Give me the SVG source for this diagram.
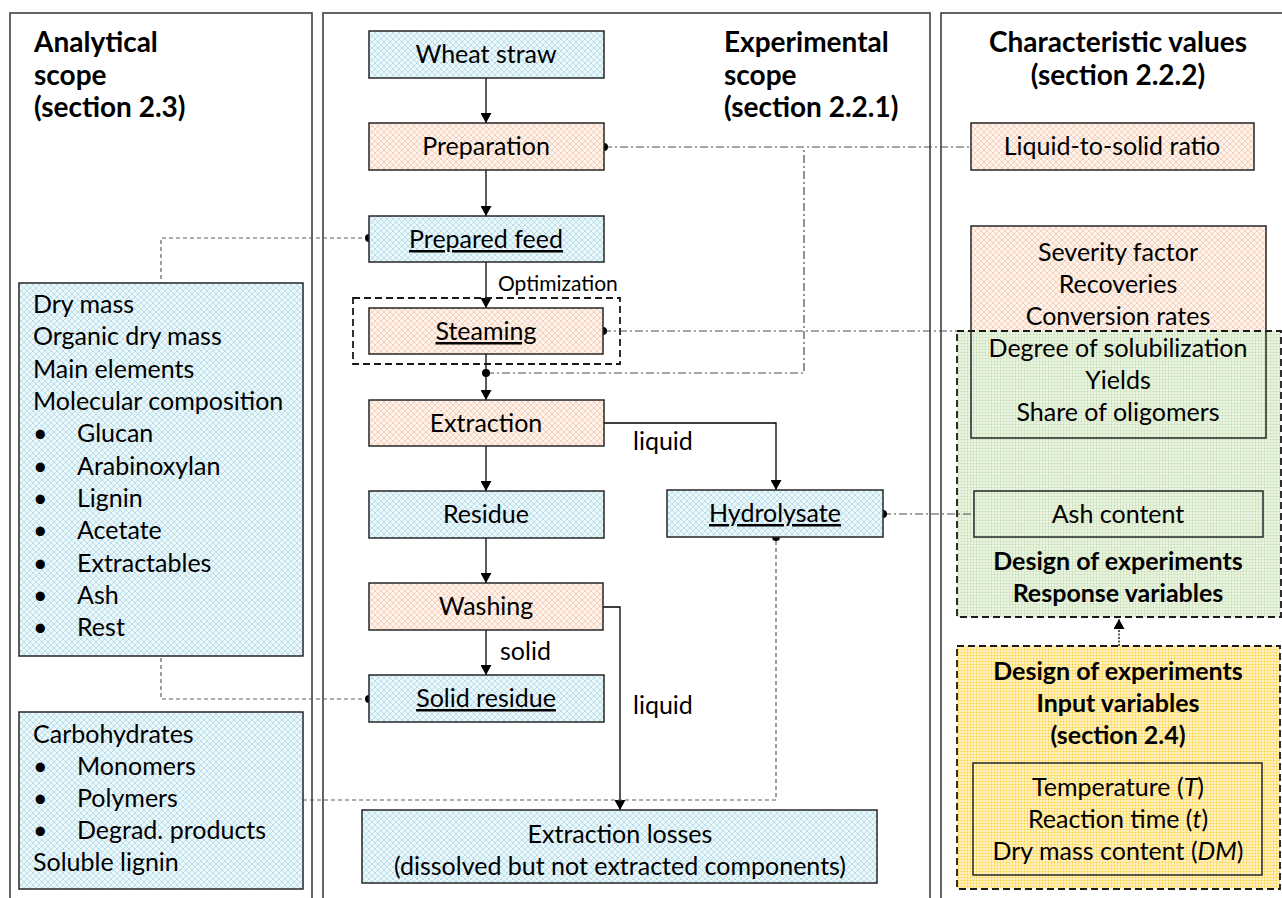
<svg xmlns="http://www.w3.org/2000/svg" width="1282" height="898" viewBox="0 0 1282 898">
  <defs>
    <pattern id="pBlue" width="6" height="6" patternUnits="userSpaceOnUse">
      <rect width="6" height="6" fill="#ecf7fa"/>
      <path d="M0 0L6 6M6 0L0 6" stroke="#badfec" stroke-width="1"/>
    </pattern>
    <pattern id="pOrange" width="6" height="6" patternUnits="userSpaceOnUse">
      <rect width="6" height="6" fill="#fef3ec"/>
      <path d="M0 0L6 6M6 0L0 6" stroke="#f7d0b9" stroke-width="1"/>
    </pattern>
    <pattern id="pGreen" width="3" height="3" patternUnits="userSpaceOnUse">
      <rect width="3" height="3" fill="#edf5e6"/>
      <circle cx="1.5" cy="1.5" r="0.9" fill="#c0ddab"/>
    </pattern>
    <pattern id="pYellow" width="3" height="3" patternUnits="userSpaceOnUse">
      <rect width="3" height="3" fill="#fff4c8"/>
      <circle cx="1.5" cy="1.5" r="1" fill="#ffcf40"/>
    </pattern>
    <marker id="arr" markerUnits="userSpaceOnUse" markerWidth="10" markerHeight="11" refX="10" refY="5.5" orient="auto">
      <path d="M0 0L10 5.5L0 11z" fill="#000"/>
    </marker>
  </defs>
  <style>
    text { font-family: Lato, "Liberation Sans", sans-serif; font-size: 25px; fill: #000; }
    .c { text-anchor: middle; }
    .b { font-weight: bold; }
    .h { font-weight: bold; font-size: 28px; }
    .sm { font-size: 21px; }
    .u { text-decoration: underline; }
    .panel { fill: none; stroke: #404040; stroke-width: 1.6; }
    .box { stroke: #262626; stroke-width: 1.5; }
    .blue { fill: url(#pBlue); }
    .orange { fill: url(#pOrange); }
    .frame { fill: none; stroke: #262626; stroke-width: 1.5; }
    .dashbox { stroke: #1a1a1a; stroke-width: 1.8; stroke-dasharray: 7 4; }
    .flow { fill: none; stroke: #000; stroke-width: 1.3; }
    .arrow { marker-end: url(#arr); }
    .dashdot { fill: none; stroke: #4d4d4d; stroke-width: 1.2; stroke-dasharray: 8 3 2 3; }
    .dash { fill: none; stroke: #5e5e5e; stroke-width: 1.2; stroke-dasharray: 4 3; }
    .dot { fill: #000; }
  </style>

  <!-- scope panels -->
  <g id="panels">
    <rect class="panel" x="10" y="13" width="302" height="900"/>
    <rect class="panel" x="323" y="13" width="607" height="900"/>
    <rect class="panel" x="941" y="13" width="360" height="900"/>
    <text class="h" x="34" y="52">Analytical</text>
    <text class="h" x="34" y="85">scope</text>
    <text class="h" x="34" y="117">(section 2.3)</text>
    <text class="h" x="724" y="52">Experimental</text>
    <text class="h" x="724" y="85">scope</text>
    <text class="h" x="724" y="117">(section 2.2.1)</text>
    <text class="h c" x="1118" y="52">Characteristic values</text>
    <text class="h c" x="1118" y="85">(section 2.2.2)</text>
  </g>

  <!-- response variables frame (behind its inner boxes) -->
  <g id="response-frame">
    <rect class="orange" x="971" y="226" width="295" height="105"/>
    <rect class="dashbox" x="957" y="331" width="324" height="286" fill="url(#pGreen)"/>
  </g>

  <!-- connectors -->
  <g id="connectors">
    <path class="flow arrow" d="M486 78V123"/>
    <path class="flow arrow" d="M486 170V216"/>
    <path class="flow arrow" d="M486 262V308"/>
    <path class="flow arrow" d="M486 354V400"/>
    <path class="flow arrow" d="M486 446V491"/>
    <path class="flow arrow" d="M486 538V583"/>
    <path class="flow arrow" d="M486 630V675"/>
    <path class="flow arrow" d="M604 423H776V490"/>
    <path class="flow arrow" d="M603 607H620V810"/>

    <path class="dashdot" d="M604 147H971"/>
    <path class="dashdot" d="M486 373H804V147"/>
    <path class="dashdot" d="M603 331H957"/>
    <path class="dashdot" d="M883 514H974"/>

    <path class="dash" d="M369 238H161V283"/>
    <path class="dash" d="M369 699H161V656"/>
    <path class="dash" d="M303 800H776V537"/>

    <path d="M1119 646V619" fill="none" stroke="#000" stroke-width="1.3" stroke-dasharray="2 1.5" marker-end="url(#arr)"/>

    <circle class="dot" cx="604" cy="147" r="4"/>
    <circle class="dot" cx="486" cy="373" r="4"/>
    <circle class="dot" cx="369" cy="238" r="4"/>
    <circle class="dot" cx="603" cy="331" r="4"/>
    <circle class="dot" cx="369" cy="699" r="4"/>
    <circle class="dot" cx="883" cy="514" r="4"/>
    <circle class="dot" cx="776" cy="537" r="4"/>

    <text x="633" y="450">liquid</text>
    <text x="500" y="660">solid</text>
    <text x="633" y="714">liquid</text>
    <text class="sm" x="498" y="291">Optimization</text>
  </g>

  <!-- process nodes -->
  <g id="wheat-straw">
    <rect class="box blue" x="369" y="31" width="235" height="47"/>
    <text class="c" x="486" y="63">Wheat straw</text>
  </g>
  <g id="preparation">
    <rect class="box orange" x="369" y="123" width="235" height="47"/>
    <text class="c" x="486" y="155">Preparation</text>
  </g>
  <g id="prepared-feed">
    <rect class="box blue" x="369" y="216" width="235" height="46"/>
    <text class="c u" x="486" y="248">Prepared feed</text>
  </g>
  <g id="steaming">
    <rect class="dashbox" x="353" y="298" width="267" height="66" fill="none"/>
    <rect class="box orange" x="369" y="308" width="234" height="46"/>
    <text class="c u" x="486" y="340">Steaming</text>
  </g>
  <g id="extraction">
    <rect class="box orange" x="369" y="400" width="235" height="46"/>
    <text class="c" x="486" y="432">Extraction</text>
  </g>
  <g id="residue">
    <rect class="box blue" x="369" y="491" width="235" height="47"/>
    <text class="c" x="486" y="523">Residue</text>
  </g>
  <g id="hydrolysate">
    <rect class="box blue" x="667" y="490" width="216" height="47"/>
    <text class="c u" x="775" y="522">Hydrolysate</text>
  </g>
  <g id="washing">
    <rect class="box orange" x="369" y="583" width="234" height="47"/>
    <text class="c" x="486" y="615">Washing</text>
  </g>
  <g id="solid-residue">
    <rect class="box blue" x="369" y="675" width="235" height="47"/>
    <text class="c u" x="486" y="707">Solid residue</text>
  </g>
  <g id="extraction-losses">
    <rect class="box blue" x="362" y="810" width="515" height="73"/>
    <text class="c" x="620" y="843">Extraction losses</text>
    <text class="c" x="620" y="875">(dissolved but not extracted components)</text>
  </g>

  <!-- analytical parameters -->
  <g id="solid-analytics">
    <rect class="box blue" x="19" y="283" width="284" height="373"/>
    <text x="33" y="313">Dry mass</text>
    <text x="33" y="345">Organic dry mass</text>
    <text x="33" y="378">Main elements</text>
    <text x="33" y="410">Molecular composition</text>
    <text x="33" y="442">•</text><text x="77" y="442">Glucan</text>
    <text x="33" y="475">•</text><text x="77" y="475">Arabinoxylan</text>
    <text x="33" y="507">•</text><text x="77" y="507">Lignin</text>
    <text x="33" y="539">•</text><text x="77" y="539">Acetate</text>
    <text x="33" y="572">•</text><text x="77" y="572">Extractables</text>
    <text x="33" y="604">•</text><text x="77" y="604">Ash</text>
    <text x="33" y="636">•</text><text x="77" y="636">Rest</text>
  </g>
  <g id="liquid-analytics">
    <rect class="box blue" x="19" y="712" width="284" height="177"/>
    <text x="33" y="743">Carbohydrates</text>
    <text x="33" y="775">•</text><text x="77" y="775">Monomers</text>
    <text x="33" y="807">•</text><text x="77" y="807">Polymers</text>
    <text x="33" y="839">•</text><text x="77" y="839">Degrad. products</text>
    <text x="33" y="871">Soluble lignin</text>
  </g>

  <!-- characteristic values -->
  <g id="liquid-solid-ratio">
    <rect class="box orange" x="971" y="123" width="283" height="47"/>
    <text class="c" x="1112" y="155">Liquid-to-solid ratio</text>
  </g>
  <g id="balances">
    <rect class="frame" x="971" y="226" width="295" height="212"/>
    <text class="c" x="1118" y="261">Severity factor</text>
    <text class="c" x="1118" y="293">Recoveries</text>
    <text class="c" x="1118" y="325">Conversion rates</text>
    <text class="c" x="1118" y="357">Degree of solubilization</text>
    <text class="c" x="1118" y="389">Yields</text>
    <text class="c" x="1118" y="421">Share of oligomers</text>
  </g>
  <g id="ash-content">
    <rect class="frame" x="974" y="491" width="289" height="46"/>
    <text class="c" x="1118" y="523">Ash content</text>
  </g>
  <g id="response-variables">
    <text class="c b" x="1118" y="570">Design of experiments</text>
    <text class="c b" x="1118" y="602">Response variables</text>
  </g>
  <g id="input-variables">
    <rect class="dashbox" x="957" y="646" width="323" height="243" fill="url(#pYellow)"/>
    <text class="c b" x="1118" y="680">Design of experiments</text>
    <text class="c b" x="1118" y="712">Input variables</text>
    <text class="c b" x="1118" y="744">(section 2.4)</text>
    <rect class="frame" x="973" y="763" width="289" height="112"/>
    <text class="c" x="1118" y="796">Temperature (<tspan font-style="italic">T</tspan>)</text>
    <text class="c" x="1118" y="828">Reaction time (<tspan font-style="italic">t</tspan>)</text>
    <text class="c" x="1118" y="860">Dry mass content (<tspan font-style="italic">DM</tspan>)</text>
  </g>
</svg>
